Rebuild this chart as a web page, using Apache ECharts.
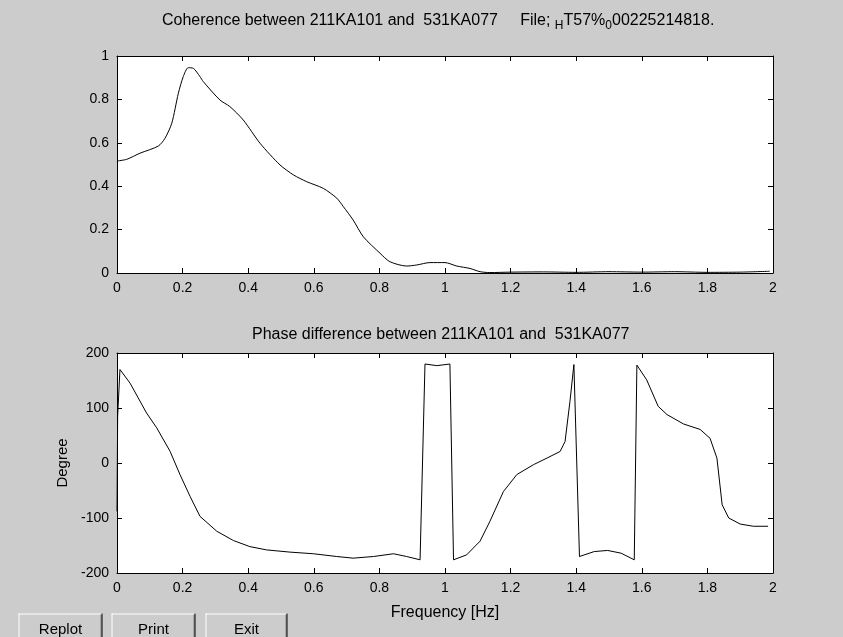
<!DOCTYPE html>
<html>
<head>
<meta charset="utf-8">
<script src="https://cdn.jsdelivr.net/npm/echarts@6/dist/echarts.min.js"></script>
<style>
  html, body { margin: 0; padding: 0; background: #cccccc; }
  #chart { width: 843px; height: 637px; }
</style>
</head>
<body>
<div id="chart"></div>
<script>
// Coherence curve (top plot)
const cohFreq = [0, 0.03, 0.07, 0.126, 0.146, 0.167, 0.187, 0.202, 0.217, 0.233, 0.253, 0.263, 0.314, 0.344,
  0.385, 0.436, 0.497, 0.538, 0.578, 0.629, 0.67, 0.69, 0.72, 0.751, 0.802, 0.832, 0.883, 0.914, 0.954, 1.0,
  1.036, 1.076, 1.107, 1.137, 1.2, 1.3, 1.4, 1.5, 1.6, 1.7, 1.8, 1.9, 1.99];
const cohValues = [0.516, 0.524, 0.552, 0.585, 0.62, 0.69, 0.828, 0.905, 0.946, 0.943, 0.905, 0.882, 0.797, 0.767,
  0.705, 0.598, 0.498, 0.452, 0.421, 0.39, 0.345, 0.306, 0.244, 0.167, 0.091, 0.052, 0.032, 0.037, 0.048, 0.048,
  0.032, 0.021, 0.006, 0.002, 0.004, 0.005, 0.003, 0.006, 0.004, 0.006, 0.003, 0.004, 0.008];

// Phase difference curve (bottom plot), degrees
const phaseFreq = [0, 0.002, 0.009, 0.04, 0.09, 0.121, 0.162, 0.192, 0.223, 0.253, 0.304, 0.355, 0.405, 0.456,
  0.527, 0.599, 0.67, 0.72, 0.782, 0.843, 0.883, 0.924, 0.939, 0.975, 1.015, 1.026, 1.066, 1.107, 1.137, 1.178,
  1.219, 1.27, 1.311, 1.351, 1.366, 1.381, 1.393, 1.41, 1.455, 1.496, 1.537, 1.577, 1.585, 1.615, 1.65, 1.677,
  1.727, 1.778, 1.808, 1.829, 1.845, 1.865, 1.9, 1.94, 1.985];
const phaseValues = [-88, 85, 170, 145, 91, 64, 21, -21, -61, -97, -124, -141, -152, -158,
  -162, -165, -170, -173, -170, -165, -170, -176, 180, 177, 180, -176, -167, -142, -106, -52,
  -21, -3, 9, 21, 39, 112, 179, -170, -161, -159, -164, -176, 178, 151, 103, 88,
  71, 61, 45, 9, -76, -100, -111, -115, -115];

const buttonLabels = ['Replot', 'Print', 'Exit'];

const FONT = "'Liberation Sans', Arial, sans-serif";

const zip = (xs, ys) => xs.map((x, i) => [x, ys[i]]);

const axisLineStyle = { lineStyle: { color: '#000', width: 1 } };
const tick = { show: true, inside: true, length: 5, lineStyle: { color: '#000' } };

const makeX = (gridIndex, position, showLabel, extra) => Object.assign({
  type: 'value', gridIndex, position, min: 0, max: 2, interval: 0.2,
  axisLine: Object.assign({ show: true, onZero: false }, axisLineStyle),
  axisTick: tick,
  splitLine: { show: false },
  axisLabel: { show: showLabel, color: '#000', fontSize: 14, fontFamily: FONT, margin: 8 }
}, extra || {});

const makeY = (gridIndex, position, showLabel, min, max, interval, extra) => Object.assign({
  type: 'value', gridIndex, position, min, max, interval,
  axisLine: Object.assign({ show: true, onZero: false }, axisLineStyle),
  axisTick: tick,
  splitLine: { show: false },
  axisLabel: { show: showLabel, color: '#000', fontSize: 14, fontFamily: FONT, margin: 8 }
}, extra || {});

// simple bevelled push buttons at the bottom
const buttonX = [16, 109, 203];
const buttonW = [84, 84, 82];
const buttons = buttonLabels.map((label, i) => ({
  type: 'group',
  left: buttonX[i], top: 611,
  children: [
    { type: 'rect', shape: { x: 0, y: 0, width: buttonW[i], height: 30 }, style: { fill: '#cccccc' } },
    { type: 'line', shape: { x1: 0, y1: 0.5, x2: buttonW[i], y2: 0.5 }, style: { stroke: '#ffffff', lineWidth: 1 } },
    { type: 'line', shape: { x1: 0.5, y1: 0, x2: 0.5, y2: 30 }, style: { stroke: '#ffffff', lineWidth: 1 } },
    { type: 'line', shape: { x1: buttonW[i] - 1.5, y1: 1, x2: buttonW[i] - 1.5, y2: 30 }, style: { stroke: '#808080', lineWidth: 1 } },
    { type: 'line', shape: { x1: buttonW[i] - 0.5, y1: 0, x2: buttonW[i] - 0.5, y2: 30 }, style: { stroke: '#000000', lineWidth: 1 } },
    { type: 'text', x: buttonW[i] / 2, y: 16, style: { text: label, fill: '#000', font: '15px ' + FONT, align: 'center', verticalAlign: 'middle' } }
  ]
}));

const option = {
  backgroundColor: '#cccccc',
  animation: false,
  title: [
    {
      text: '{n|Coherence between 211KA101 and  531KA077     File; }{s|H}{n|T57%}{s|0}{n|00225214818.}',
      left: 162, top: 10, padding: 0,
      textStyle: {
        fontWeight: 'normal',
        rich: {
          n: { fontSize: 16, fontFamily: FONT, color: '#000', fontWeight: 'normal' },
          s: { fontSize: 12, fontFamily: FONT, color: '#000', fontWeight: 'normal', padding: [10, 0, 0, 0] }
        }
      }
    },
    {
      text: 'Phase difference between 211KA101 and  531KA077',
      left: 252, top: 327, padding: 0,
      textStyle: { fontSize: 16, fontFamily: FONT, color: '#000', fontWeight: 'normal' }
    }
  ],
  grid: [
    { left: 117, top: 56, width: 656, height: 217, show: true, backgroundColor: '#ffffff', borderWidth: 0 },
    { left: 117, top: 353, width: 656, height: 220, show: true, backgroundColor: '#ffffff', borderWidth: 0 }
  ],
  xAxis: [
    makeX(0, 'bottom', true),
    makeX(0, 'top', false),
    makeX(1, 'bottom', true, {
      name: 'Frequency [Hz]', nameLocation: 'middle', nameGap: 32,
      nameTextStyle: { fontSize: 16, fontFamily: FONT, color: '#000' }
    }),
    makeX(1, 'top', false)
  ],
  yAxis: [
    makeY(0, 'left', true, 0, 1, 0.2),
    makeY(0, 'right', false, 0, 1, 0.2),
    makeY(1, 'left', true, -200, 200, 100, {
      name: 'Degree', nameLocation: 'middle', nameGap: 46,
      nameTextStyle: { fontSize: 15, fontFamily: FONT, color: '#000' }
    }),
    makeY(1, 'right', false, -200, 200, 100)
  ],
  series: [
    {
      type: 'line', xAxisIndex: 0, yAxisIndex: 0, data: zip(cohFreq, cohValues),
      showSymbol: false, smooth: 0.25,
      lineStyle: { color: '#000', width: 1 }, silent: true
    },
    {
      type: 'line', xAxisIndex: 2, yAxisIndex: 2, data: zip(phaseFreq, phaseValues),
      showSymbol: false,
      lineStyle: { color: '#000', width: 1 }, silent: true
    }
  ],
  graphic: buttons
};

const myChart = echarts.init(document.querySelector('#chart'));
myChart.setOption(option);
</script>
</body>
</html>
